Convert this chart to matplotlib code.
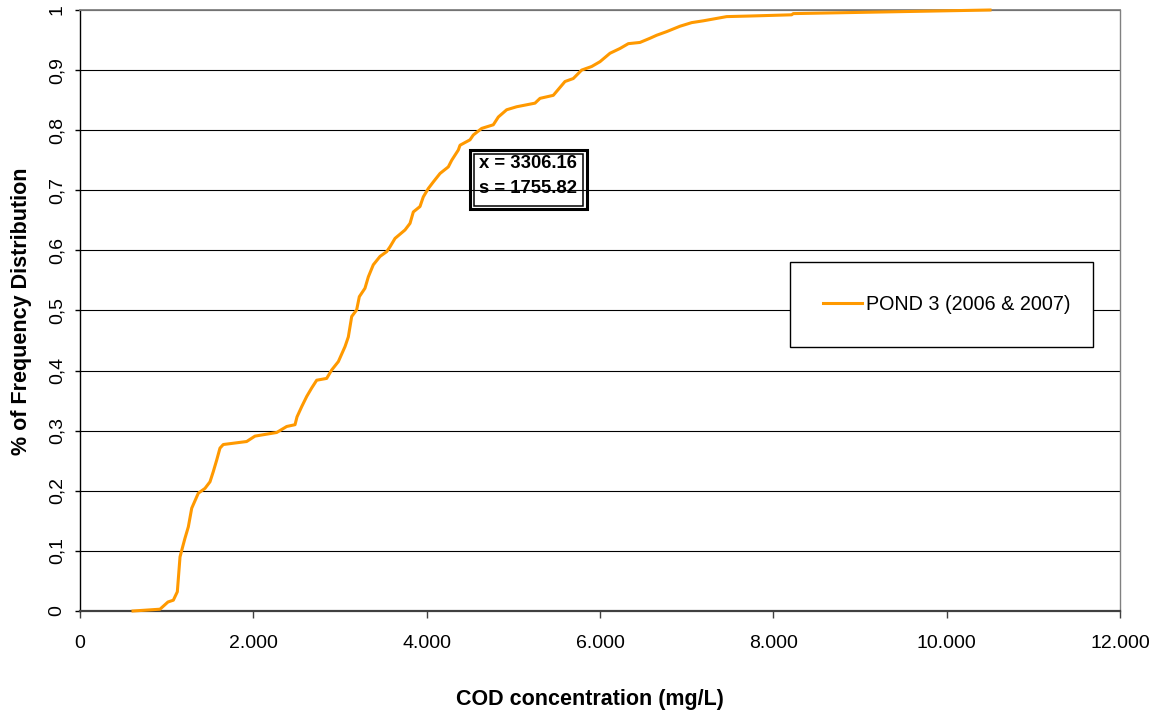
import matplotlib
matplotlib.use("Agg")
import matplotlib.pyplot as plt
from matplotlib.patches import Rectangle
from matplotlib.ticker import FuncFormatter, MultipleLocator

plt.rcParams['font.family'] = ['Liberation Sans', 'DejaVu Sans']

# cumulative frequency of COD
cod = [612, 923, 1015, 1077, 1123, 1154, 1185, 1211, 1250, 1289, 1365, 1442,
       1500, 1538, 1577, 1615, 1653, 1923, 2019, 2269, 2385, 2481, 2504, 2558,
       2616, 2673, 2731, 2846, 2904, 2981, 3058, 3096, 3135, 3192, 3223, 3288,
       3327, 3384, 3462, 3539, 3577, 3635, 3750, 3808, 3846, 3923, 3961, 4019,
       4077, 4154, 4250, 4289, 4365, 4385, 4500, 4538, 4635, 4769, 4827, 4923,
       5038, 5250, 5308, 5461, 5596, 5692, 5788, 5904, 6000, 6115, 6231, 6327,
       6461, 6577, 6654, 6769, 6923, 7058, 7192, 7461, 7731, 8211, 8230, 10500]
freq = [0.000, 0.003, 0.015, 0.018, 0.032, 0.090, 0.107, 0.121, 0.140, 0.171,
        0.196, 0.204, 0.215, 0.232, 0.251, 0.271, 0.277, 0.282, 0.291, 0.297,
        0.307, 0.310, 0.323, 0.340, 0.357, 0.371, 0.384, 0.387, 0.401, 0.415,
        0.440, 0.456, 0.490, 0.501, 0.523, 0.537, 0.556, 0.576, 0.590, 0.598,
        0.606, 0.620, 0.634, 0.645, 0.664, 0.673, 0.689, 0.703, 0.714, 0.728,
        0.739, 0.750, 0.767, 0.775, 0.784, 0.792, 0.803, 0.809, 0.822, 0.834,
        0.839, 0.845, 0.853, 0.858, 0.881, 0.886, 0.900, 0.906, 0.914, 0.928,
        0.936, 0.944, 0.946, 0.953, 0.958, 0.964, 0.973, 0.979, 0.982, 0.989,
        0.990, 0.992, 0.994, 1.000]
series_name = 'POND 3 (2006 & 2007)'
stats_text = ['x = 3306.16', 's = 1755.82']

W, H = 1157, 715
fig = plt.figure(figsize=(W / 100, H / 100), dpi=100)
ax = fig.add_axes([80 / W, 104 / H, 1040 / W, 601 / H])

ax.plot(cod, freq, color='#FF9900', linewidth=2.2, label=series_name, clip_on=False, zorder=3)

ax.set_xlim(0, 12000)
ax.set_ylim(0, 1)
ax.xaxis.set_major_locator(MultipleLocator(2000))
ax.yaxis.set_major_locator(MultipleLocator(0.1))

def xfmt(v, pos):
    return f"{int(round(v)):,}".replace(',', '.')

def yfmt(v, pos):
    if abs(v) < 1e-9:
        return '0'
    if abs(v - 1) < 1e-9:
        return '1'
    return f"{v:.1f}".replace('.', ',')

ax.xaxis.set_major_formatter(FuncFormatter(xfmt))
ax.yaxis.set_major_formatter(FuncFormatter(yfmt))

ax.yaxis.grid(True, color='black', linewidth=0.8)
ax.set_axisbelow(True)

ax.spines['left'].set_color('black')
ax.spines['left'].set_linewidth(1.0)
ax.spines['bottom'].set_color('#404040')
ax.spines['bottom'].set_linewidth(1.6)
ax.spines['top'].set_color('#808080')
ax.spines['top'].set_linewidth(1.3)
ax.spines['right'].set_color('#808080')
ax.spines['right'].set_linewidth(1.0)

ax.tick_params(axis='x', direction='out', length=5, width=1.0, color='#404040',
               labelsize=14, pad=12)
ax.tick_params(axis='y', direction='out', length=3.6, width=1.0, color='black',
               labelsize=14, pad=7, labelrotation=90)
for lbl in ax.get_yticklabels():
    lbl.set_va('center')

fig.text(590 / W, 1 - 700 / H, 'COD concentration (mg/L)', ha='center', va='center',
         fontsize=15.5, fontweight='bold')
fig.text(22 / W, 1 - 311 / H, '% of Frequency Distribution', ha='center', va='center',
         rotation=90, fontsize=15.5, fontweight='bold')

# double-framed statistics box
fig.add_artist(Rectangle((469.5 / W, 1 - 209.5 / H), 117 / W, 59.5 / H,
                         transform=fig.transFigure, fill=False, edgecolor='black',
                         linewidth=2.2))
fig.add_artist(Rectangle((473.5 / W, 1 - 205.5 / H), 109 / W, 51.5 / H,
                         transform=fig.transFigure, fill=False, edgecolor='black',
                         linewidth=1.1))
fig.text(479 / W, 1 - 163.5 / H, stats_text[0], ha='left', va='center',
         fontsize=13.3, fontweight='bold')
fig.text(479 / W, 1 - 188.5 / H, stats_text[1], ha='left', va='center',
         fontsize=13.3, fontweight='bold')

leg = ax.legend(loc='center left',
                bbox_to_anchor=((790 - 80) / 1040, (611 - 348.3) / 601,
                                (1092.7 - 790) / 1040, 87.6 / 601),
                mode='expand', fontsize=14.2, frameon=True, fancybox=False,
                borderpad=1.65, handlelength=2.0, handletextpad=0.2,
                borderaxespad=0)
leg.get_frame().set_edgecolor('black')
leg.get_frame().set_linewidth(1.0)
leg.get_frame().set_alpha(1)

fig.savefig('out.png', dpi=100)
